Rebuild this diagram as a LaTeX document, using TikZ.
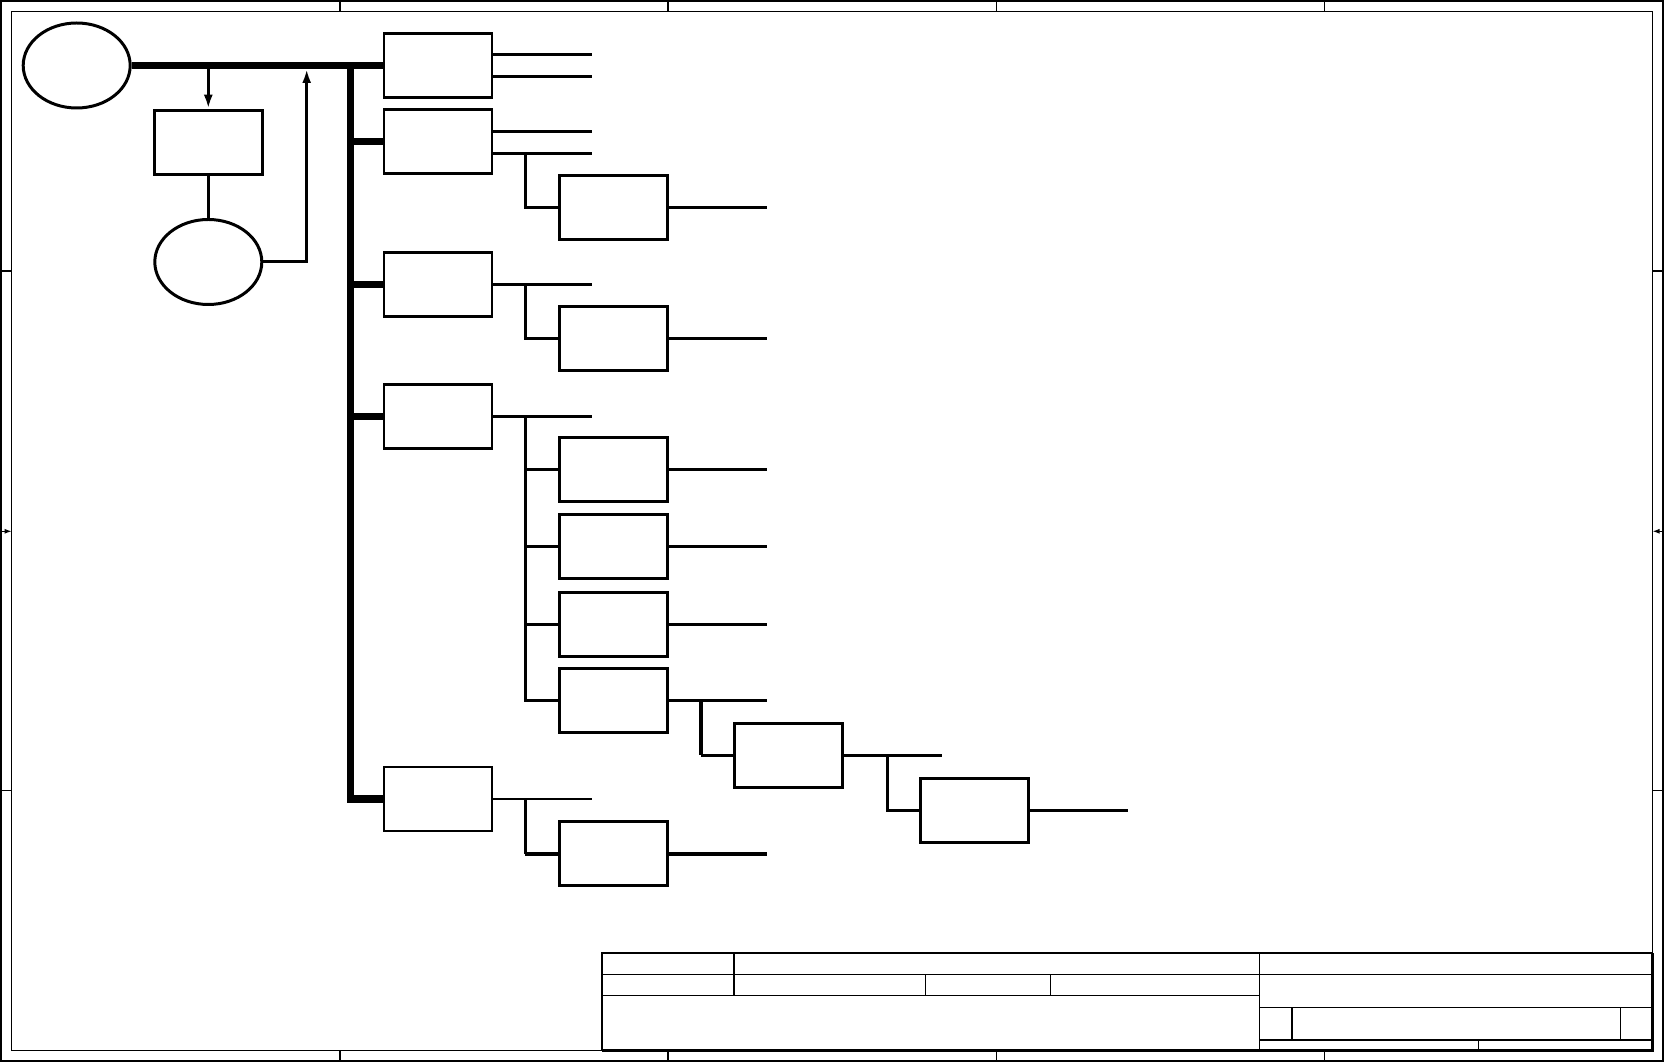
\documentclass[tikz,border=0pt]{standalone}
\usetikzlibrary{arrows.meta,shapes.geometric}
\begin{document}
\begin{tikzpicture}[
  box/.style={draw, line width=0.85pt, minimum width=1.08cm, minimum height=0.64cm, inner sep=0pt},
  oval/.style={draw, ellipse, line width=0.85pt, minimum width=1.07cm, minimum height=0.85cm, inner sep=0pt},
  link/.style={line width=0.85pt},
  heavylink/.style={line width=1.2pt},
  bus/.style={line width=2pt, line join=miter},
  arr/.style={-{Latex[length=1.4mm,width=0.9mm]}},
  frame/.style={line width=0.4pt},
  centremark/.style={line width=0.4pt, -{Latex[length=0.7mm,width=0.5mm]}}]
\useasboundingbox (0,0) rectangle (16.65,-10.63);
\draw[frame] (0.01,-0.01) rectangle (16.63,-10.61);
\draw[frame] (0.117,-0.113) rectangle (16.525,-10.505);
\draw[frame] (3.399,-0.01) -- (3.399,-0.113);
\draw[frame] (6.681,-0.01) -- (6.681,-0.113);
\draw[frame] (9.963,-0.01) -- (9.963,-0.113);
\draw[frame] (13.245,-0.01) -- (13.245,-0.113);
\draw[frame] (3.399,-10.505) -- (3.399,-10.61);
\draw[frame] (6.681,-10.505) -- (6.681,-10.61);
\draw[frame] (9.963,-10.505) -- (9.963,-10.61);
\draw[frame] (13.245,-10.505) -- (13.245,-10.61);
\draw[frame] (0.01,-2.71) -- (0.117,-2.71);
\draw[frame] (0.01,-7.906) -- (0.117,-7.906);
\draw[frame] (16.525,-2.71) -- (16.63,-2.71);
\draw[frame] (16.525,-7.906) -- (16.63,-7.906);
\draw[centremark] (0.01,-5.313) -- (0.117,-5.313);
\draw[centremark] (16.63,-5.313) -- (16.525,-5.313);
\draw[line width=0.5pt] (6.017,-10.505) |- (16.525,-9.527);
\draw[line width=1pt] (6.017,-10.505) -| (16.525,-9.527);
\draw[frame] (6.017,-9.743) -- (16.525,-9.743);
\draw[frame] (6.017,-9.953) -- (12.594,-9.953);
\draw[line width=0.7pt] (7.34,-9.527) -- (7.34,-9.953);
\draw[frame] (9.253,-9.743) -- (9.253,-9.953);
\draw[frame] (10.503,-9.743) -- (10.503,-9.953);
\draw[frame] (12.594,-9.527) -- (12.594,-10.505);
\draw[frame] (12.594,-10.073) -- (16.525,-10.073);
\draw[frame] (12.594,-10.40) -- (16.525,-10.40);
\draw[frame] (12.92,-10.073) -- (12.92,-10.40);
\draw[frame] (16.206,-10.073) -- (16.206,-10.40);
\draw[frame] (14.783,-10.40) -- (14.783,-10.505);
\node[oval] (src) at (0.767,-0.655) {};
\node[box] (calc) at (2.083,-1.422) {};
\node[oval] (ret) at (2.083,-2.62) {};
\node[box] (m1) at (4.38,-0.655) {};
\node[box] (m2) at (4.38,-1.418) {};
\node[box] (m3) at (4.38,-2.846) {};
\node[box] (m4) at (4.38,-4.163) {};
\node[box] (m5) at (4.38,-7.99) {};
\node[box] (m2a) at (6.135,-2.08) {};
\node[box] (m3a) at (6.135,-3.388) {};
\node[box] (m4a) at (6.135,-4.694) {};
\node[box] (m4b) at (6.135,-5.469) {};
\node[box] (m4c) at (6.135,-6.244) {};
\node[box] (m4d) at (6.135,-7.005) {};
\node[box] (m5a) at (6.135,-8.537) {};
\node[box] (m4d1) at (7.882,-7.552) {};
\node[box] (m4d2) at (9.745,-8.103) {};
\coordinate (bus) at (3.507,0);
\coordinate (back) at (3.067,-0.69);
\coordinate (endA) at (5.92,0);
\coordinate (endB) at (7.67,0);
\coordinate (endC) at (9.42,0);
\coordinate (endD) at (11.28,0);
\coordinate (brA) at (5.253,0);
\coordinate (brB) at (7.007,0);
\coordinate (brC) at (8.873,0);
\draw[bus] (src.east) -- (m1.west);
\draw[bus] (m1.west -| bus) -- (m5.west -| bus) -- (m5.west);
\draw[bus] (m2.west -| bus) -- (m2.west);
\draw[bus] (m3.west -| bus) -- (m3.west);
\draw[bus] (m4.west -| bus) -- (m4.west);
\draw[link, arr] (calc.north |- src.east) -- (calc.north);
\draw[link] (calc.south) -- (ret.north);
\draw[link, arr] (ret.east) -| (back);
\draw[link] ([yshift=1.1mm]m1.east) -- ([yshift=1.1mm]m1.east -| endA);
\draw[link] ([yshift=-1.1mm]m1.east) -- ([yshift=-1.1mm]m1.east -| endA);
\draw[link] ([yshift=1.05mm]m2.east) -- ([yshift=1.05mm]m2.east -| endA);
\draw[link] ([yshift=-1.15mm]m2.east) -- ([yshift=-1.15mm]m2.east -| endA);
\draw[link] ([yshift=-1.15mm]m2.east -| brA) |- (m2a.west);
\draw[link] (m2a.east) -- (m2a.east -| endB);
\draw[link] (m3.east) -- (m3.east -| endA);
\draw[link] (m3.east -| brA) |- (m3a.west);
\draw[link] (m3a.east) -- (m3a.east -| endB);
\draw[link] (m4.east) -- (m4.east -| endA);
\draw[link] (m4.east -| brA) |- (m4d.west);
\draw[link] (m4a.west -| brA) -- (m4a.west);
\draw[link] (m4b.west -| brA) -- (m4b.west);
\draw[link] (m4c.west -| brA) -- (m4c.west);
\draw[link] (m4a.east) -- (m4a.east -| endB);
\draw[link] (m4b.east) -- (m4b.east -| endB);
\draw[link] (m4c.east) -- (m4c.east -| endB);
\draw[link] (m4d.east) -- (m4d.east -| endB);
\draw[heavylink] (m4d.east -| brB) -- (m4d1.west -| brB);
\draw[link] (m4d1.west -| brB) -- (m4d1.west);
\draw[link] (m4d1.east) -- (m4d1.east -| endC);
\draw[link] (m4d1.east -| brC) |- (m4d2.west);
\draw[link] (m4d2.east) -- (m4d2.east -| endD);
\draw[link] (m5.east) -- (m5.east -| endA);
\draw[link] (m5.east -| brA) -- (m5a.west -| brA);
\draw[heavylink] (m5a.west -| brA) -- (m5a.west);
\draw[heavylink] (m5a.east) -- (m5a.east -| endB);
\end{tikzpicture}
\end{document}
